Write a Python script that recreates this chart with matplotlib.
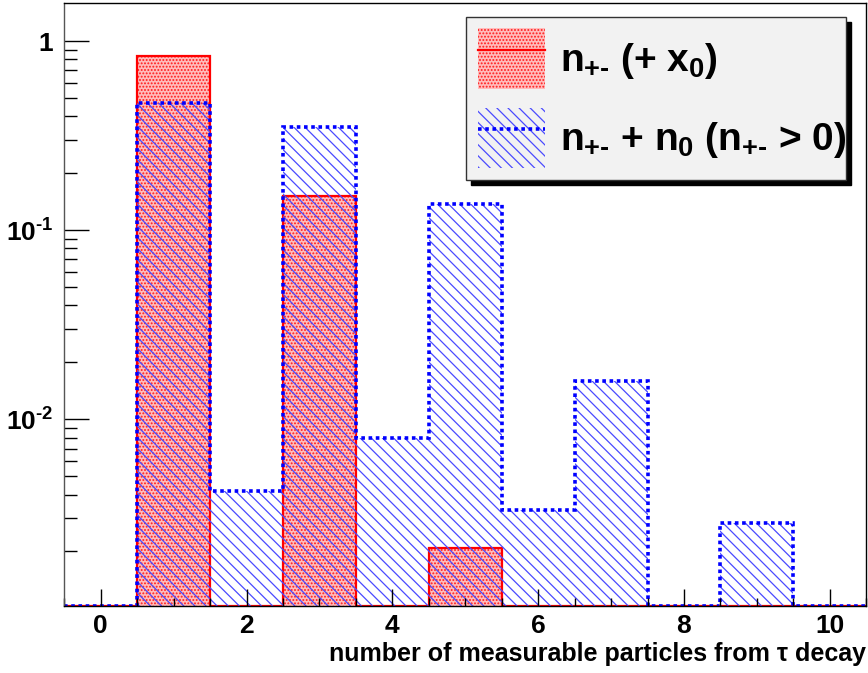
import numpy as np
import matplotlib
matplotlib.use("Agg")
import matplotlib.pyplot as plt
from matplotlib.patches import Patch
from matplotlib.lines import Line2D
from matplotlib.ticker import MultipleLocator, LogLocator, NullFormatter, FixedLocator, FixedFormatter

plt.rcParams['font.family'] = ['Liberation Sans', 'DejaVu Sans']
plt.rcParams['font.weight'] = 'bold'
plt.rcParams['mathtext.fontset'] = 'custom'
plt.rcParams['mathtext.rm'] = 'Liberation Sans:bold'
plt.rcParams['mathtext.it'] = 'Liberation Sans:bold'
plt.rcParams['mathtext.bf'] = 'Liberation Sans:bold'
plt.rcParams['hatch.linewidth'] = 0.9

# bins: number of measurable particles, 0..10
bin_edges = np.arange(-0.5, 11.0, 1.0)
# n+- (+ x0)
charged = [0, 0.833, 0, 0.151, 0, 0.00208, 0, 0, 0, 0, 0]
# n+- + n0 (n+- > 0)
charged_neutral = [0, 0.47, 0.00416, 0.351, 0.00793, 0.137, 0.0033, 0.0159, 0, 0.00282, 0]

y_min, y_max = 1.03e-3, 1.59
y_major = [1, 0.1, 0.01]
y_major_labels = ['1', r'$10^{\text{-1}}$', r'$10^{\text{-2}}$']
x_major = [0, 2, 4, 6, 8, 10]

label_red = r'$n_{\text{+-}}$ (+ $x_0$)'
label_blue = r'$n_{\text{+-}}$ + $n_0$ ($n_{\text{+-}}$ > 0)'

fig = plt.figure(figsize=(8.68, 6.73), dpi=100)
ax = fig.add_axes([0.074, 0.0996, 0.924, 0.896])
ax.set_yscale('log')

red_vals = np.clip(charged, y_min, None)
blue_vals = np.clip(charged_neutral, y_min, None)

red_fill = dict(facecolor='#ffbcbc', edgecolor='#ff1a1a', hatch='.....', linewidth=0)
blue_fill = dict(facecolor='none', edgecolor='#4a4aff', hatch='\\\\\\', linewidth=0)
red_line = dict(color='red', linewidth=1.6)
blue_line = dict(color='blue', linewidth=2.6, linestyle=(0, (1, 1)))

# red histogram: dotted pink fill + solid red line
ax.stairs(red_vals, bin_edges, baseline=y_min, fill=True, **red_fill)
ax.stairs(red_vals, bin_edges, baseline=y_min, **red_line)

# blue histogram: diagonal hatch + dotted blue line
ax.stairs(blue_vals, bin_edges, baseline=y_min, fill=True, **blue_fill)
ax.stairs(blue_vals, bin_edges, baseline=y_min, **blue_line)

ax.set_xlim(-0.5, 10.5)
ax.set_ylim(y_min, y_max)

ax.xaxis.set_major_locator(FixedLocator(x_major))
ax.xaxis.set_minor_locator(MultipleLocator(0.5))
ax.yaxis.set_major_locator(FixedLocator(y_major))
ax.yaxis.set_major_formatter(FixedFormatter(y_major_labels))
ax.yaxis.set_minor_locator(LogLocator(base=10, subs=np.arange(2, 10)))
ax.yaxis.set_minor_formatter(NullFormatter())

ax.tick_params(axis='both', which='both', direction='in', top=False, right=False,
               labelsize=19, width=1)
ax.tick_params(axis='x', which='major', length=12, pad=6)
ax.tick_params(axis='x', which='minor', length=6)
ax.tick_params(axis='y', which='major', length=18, pad=8)
ax.tick_params(axis='y', which='minor', length=9)
for s in ax.spines.values():
    s.set_linewidth(1)
ax.spines['left'].set_color('#555555')

ax.set_xlabel('number of measurable particles from τ decay', fontsize=18,
              fontweight='bold', loc='right', labelpad=3)

handles = [
    (Patch(**red_fill), Line2D([], [], **red_line)),
    (Patch(**blue_fill), Line2D([], [], **blue_line)),
]
leg = ax.legend(handles, [label_red, label_blue], loc='upper left',
                bbox_to_anchor=(0.501, 0.711, 0.474, 0.266), mode='expand',
                fontsize=28, frameon=True,
                fancybox=False, framealpha=1, facecolor='#f2f2f2',
                edgecolor='#333333', handlelength=1.72, handleheight=2.0,
                handletextpad=0.4, borderpad=0.3, labelspacing=0.5,
                borderaxespad=0,
                shadow={'color': 'black', 'alpha': 1, 'ox': 3.5, 'oy': -3.5})
leg.get_frame().set_linewidth(1)
leg.set_zorder(10)

fig.savefig('out.png', dpi=100)
